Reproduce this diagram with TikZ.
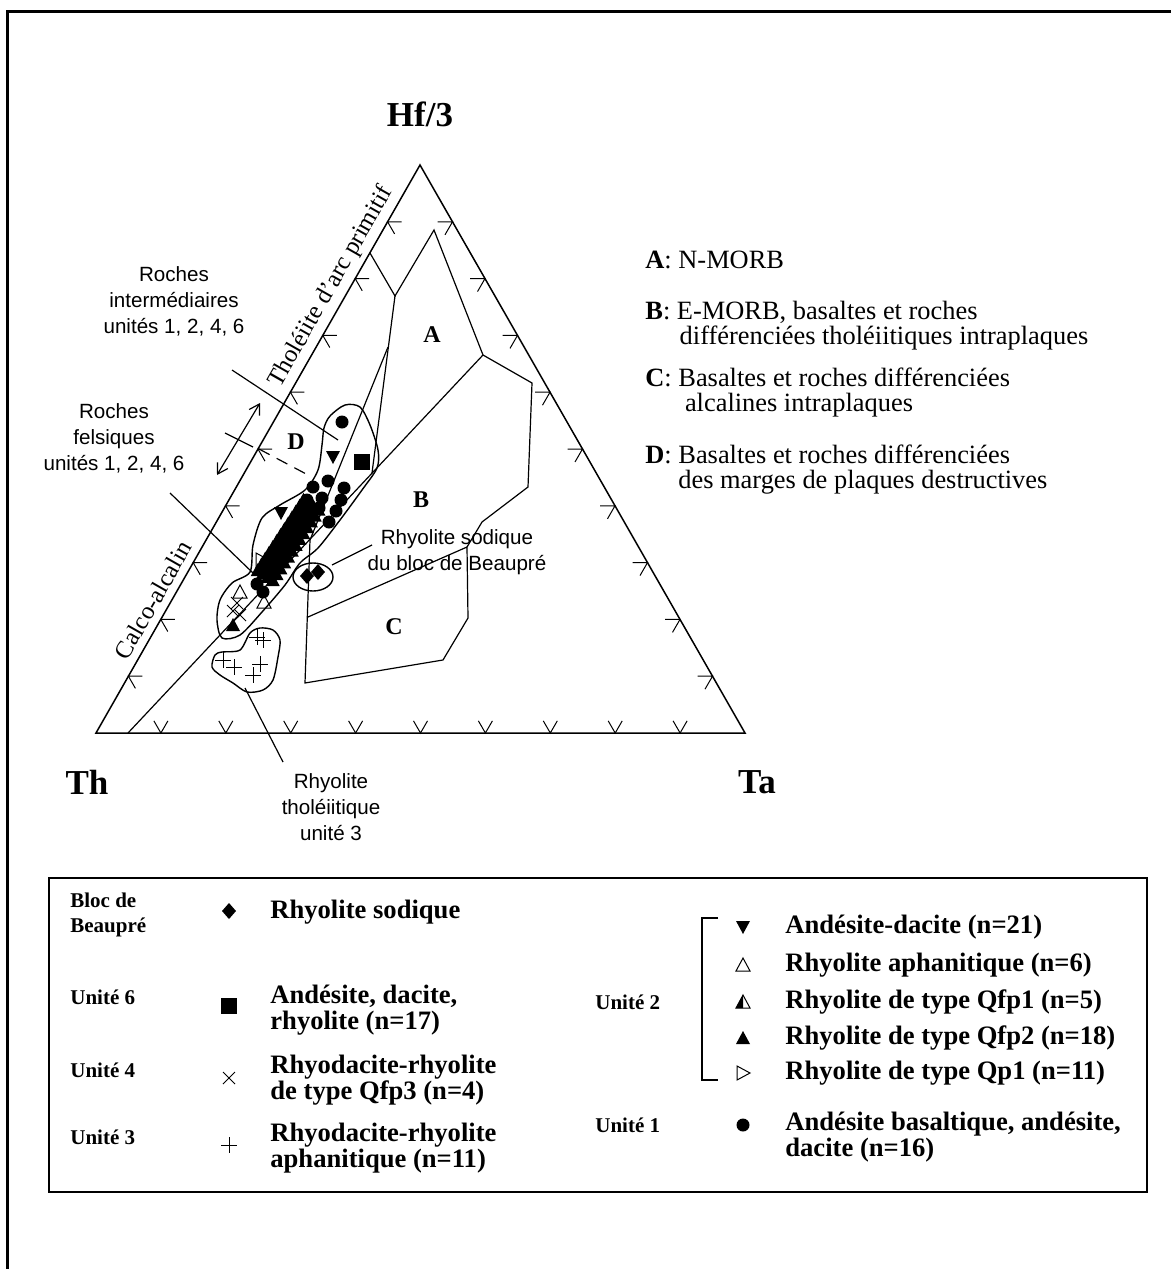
\documentclass[tikz,border=0pt]{standalone}
\usepackage{fontspec}
\setmainfont{Liberation Serif}
\setsansfont{Liberation Sans}
\usetikzlibrary{arrows.meta}

\begin{document}
\begin{tikzpicture}[x=0.5pt,y=-0.5pt]

\tikzset{axe/.style={line width=0.75pt}}
\tikzset{champ/.style={line width=0.6pt}}
\tikzset{graduation/.style={line width=0.5pt}}
\tikzset{amas/.style={line width=0.7pt}}
\tikzset{renvoi/.style={line width=0.6pt}}
\tikzset{pole/.style={font=\fontsize{17.5}{20}\selectfont\bfseries}}
\tikzset{champlettre/.style={font=\fontsize{12}{14}\selectfont\bfseries}}
\tikzset{annot/.style={font=\fontsize{10.3}{13}\selectfont\sffamily, align=center, inner sep=0pt}}
\tikzset{bord/.style={font=\fontsize{12.3}{14}\selectfont, rotate=60.3, inner sep=0pt}}
\tikzset{cle/.style={font=\fontsize{13.2}{12.5}\selectfont, anchor=west, align=left, inner sep=0pt}}
\tikzset{leg/.style={font=\fontsize{13.3}{13}\selectfont\bfseries, anchor=west, align=left, inner sep=0pt}}
\tikzset{unite/.style={font=\fontsize{10.5}{12.5}\selectfont\bfseries, anchor=west, align=left, inner sep=0pt}}

\def\ptrond(#1){\fill (#1) circle (6.5);}
\def\ptcarre(#1){\fill[shift={(#1)}] (-8,-8) rectangle (8,8);}
\def\ptbas(#1){\fill[shift={(#1)}] (-7,-6) -- (7,-6) -- (0,7) -- cycle;}
\def\pthaut(#1){\fill[shift={(#1)}] (-7,6) -- (7,6) -- (0,-7) -- cycle;}
\def\pthautvide(#1){\draw[line width=0.5pt, shift={(#1)}] (-7,6) -- (7,6) -- (0,-7) -- cycle;}
\def\ptdemi(#1){\draw[line width=0.5pt, shift={(#1)}] (-7,6) -- (7,6) -- (0,-7) -- cycle; \fill[shift={(#1)}] (-7,6) -- (0,6) -- (0,-7) -- cycle;}
\def\ptdroite(#1){\draw[line width=0.5pt, shift={(#1)}] (-6,-7) -- (7,0) -- (-6,7) -- cycle;}
\def\ptcroix(#1){\draw[line width=0.5pt, shift={(#1)}] (-6,-6) -- (6,6) (-6,6) -- (6,-6);}
\def\ptplus(#1){\draw[line width=0.5pt, shift={(#1)}] (-8,0) -- (8,0) (0,-8) -- (0,8);}
\def\ptlosange(#1){\fill[shift={(#1)}] (0,-8) -- (7,0) -- (0,8) -- (-7,0) -- cycle;}

\useasboundingbox (0,0) rectangle (1171,1269);

% cadre
\draw[line width=1.5pt] (7,1269) -- (7,11) -- (1171,11);

% triangle
\coordinate (sommetHf) at (420,165);
\coordinate (sommetTh) at (96,733);
\coordinate (sommetTa) at (745,733);
\draw[axe] (sommetHf) -- (sommetTh) -- (sommetTa) -- cycle;

\node[pole] (etiqHf) at (420,114) {Hf/3};
\node[pole] (etiqTh) at (87,782) {Th};
\node[pole] (etiqTa) at (757,782) {Ta};

\foreach \k in {1,...,9}{
  \draw[graduation] ({96+64.9*\k},733) ++(-120:14) -- ({96+64.9*\k},733) -- ++(-60:14);
  \draw[graduation] ({745-32.5*\k},{733-56.8*\k}) ++(180:15) -- ({745-32.5*\k},{733-56.8*\k}) -- ++(120:15);
  \draw[graduation] ({420-32.4*\k},{165+56.8*\k}) ++(0:14) -- ({420-32.4*\k},{165+56.8*\k}) -- ++(60:14);
}

% champs de Wood
\draw[champ] (370,253) -- (395,296) -- (434,230) -- (483,355) -- (532,383) -- (528,487) -- (482,522) -- (467,547);
\draw[champ] (395,296) -- (372,473);
\draw[champ] (388,347) -- (310,540);
\draw[champ] (128,733) -- (483,355);
\draw[champ] (310,540) -- (305,683) -- (443,660) -- (468,618) -- (467,547) -- (308,617);
\draw[champ, dash pattern=on 6pt off 4pt] (259,449) -- (310,476);

\node[champlettre] (champA) at (432,335) {A};
\node[champlettre] (champB) at (421,500) {B};
\node[champlettre] (champC) at (394,627) {C};
\node[champlettre] (champD) at (296,442) {D};

\node[bord] (tholarc) at (331,287) {Tholéiite d'arc primitif};
\node[bord] (calco) at (153,600) {Calco-alcalin};

% enveloppes
\draw[amas] plot[smooth cycle] coordinates {(330,416) (345,405) (360,407) (370,425) (378,450) (377,468) (362,490) (340,520) (318,548) (300,563) (285,585) (262,612) (240,635) (222,638) (217,620) (220,600) (232,583) (250,572) (253,545) (262,518) (280,505) (305,490) (318,470) (322,445) (324,428)};
\draw[amas] plot[smooth cycle] coordinates {(215,655) (222,652) (240,650) (250,633) (260,628) (273,630) (280,640) (278,657) (273,680) (263,690) (247,692) (233,683) (220,675) (212,667)};
\draw[amas] (313,577) ellipse (20 and 14);

% points
\ptrond(342,422) \ptrond(313,487) \ptrond(328,481) \ptrond(344,488) \ptrond(322,498)
\ptrond(336,511) \ptrond(341,500) \ptrond(329,522) \ptrond(319,508) \ptrond(307,500)
\ptrond(257,584) \ptrond(263,592)
\ptbas(333,457) \ptbas(281,513)
\ptcarre(362,462)
\foreach \t in {0,7,...,84}
  \foreach \s in {-15,-9,-3,3}
    \fill[shift={({316-0.545*\t+0.838*\s},{508+0.838*\t+0.545*\s})}] (-7,6) -- (7,6) -- (0,-7) -- cycle;
\ptdroite(262,560)
\pthautvide(240,592) \pthautvide(264,602)
\ptcroix(237,603) \ptcroix(233,611) \ptcroix(240,615)
\pthaut(233,625)
\ptplus(257,637) \ptplus(263,640) \ptplus(223,660) \ptplus(234,667) \ptplus(260,664) \ptplus(253,675)
\ptlosange(307,576) \ptlosange(318,572)

% annotations
\node[annot] (roint) at (174,301) {Roches\\intermédiaires\\unités 1, 2, 4, 6};
\node[annot] (rofel) at (114,438) {Roches\\felsiques\\unités 1, 2, 4, 6};
\node[annot] (rhytho) at (331,807) {Rhyolite\\tholéiitique\\unité 3};
\node[annot] (rhysod) at (457,552) {Rhyolite sodique\\du bloc de Beaupré};

\coordinate (roint-a) at (232,370);
\coordinate (roint-b) at (338,440);
\coordinate (rofel-a) at (170,493);
\coordinate (rofel-b) at (253,573);
\coordinate (rhytho-a) at (283,762);
\coordinate (rhytho-b) at (245,688);
\coordinate (rhysod-a) at (372,545);
\coordinate (rhysod-b) at (332,565);
\draw[renvoi] (roint-a) -- (roint-b);
\draw[renvoi] (rofel-a) -- (rofel-b);
\draw[renvoi] (rhytho-a) -- (rhytho-b);
\draw[renvoi] (rhysod-a) -- (rhysod-b);

\coordinate (fleche-haut) at (260,403);
\coordinate (fleche-bas) at (217,475);
\draw[renvoi, {Straight Barb[length=5pt,width=6pt]}-{Straight Barb[length=5pt,width=6pt]}] (fleche-haut) -- (fleche-bas);
\draw[renvoi] (225,433) -- (253,447);

% legende des champs
\node[cle] (cleA) at (645,260) {\textbf{A}: N-MORB};
\node[cle] (cleB) at (645,325.5) {\textbf{B}: E-MORB, basaltes et roches\\\hspace*{1.3em}différenciées tholéiitiques intraplaques};
\node[cle] (cleC) at (645,392.5) {\textbf{C}: Basaltes et roches différenciées\\\hspace*{1.5em}alcalines intraplaques};
\node[cle] (cleD) at (645,469.5) {\textbf{D}: Basaltes et roches différenciées\\\hspace*{1.25em}des marges de plaques destructives};

% legende des symboles
\draw[axe] (49,878) rectangle (1147,1192);

\node[unite] (uBeau) at (70,914.5) {Bloc de\\Beaupré};
\node[unite] (u6) at (70,997) {Unité 6};
\node[unite] (u4) at (70,1070) {Unité 4};
\node[unite] (u3) at (70,1137) {Unité 3};
\node[unite] (u2) at (595,1002) {Unité 2};
\node[unite] (u1) at (595,1125) {Unité 1};

\ptlosange(229,911)
\ptcarre(229,1006)
\ptcroix(229,1078)
\ptplus(229,1145)
\node[leg] (legBeau) at (270,912) {Rhyolite sodique};
\node[leg] (leg6) at (270,1010) {Andésite, dacite,\\rhyolite (n=17)};
\node[leg] (leg4) at (270,1080.5) {Rhyodacite-rhyolite\\de type Qfp3 (n=4)};
\node[leg] (leg3) at (270,1148.5) {Rhyodacite-rhyolite\\aphanitique (n=11)};

\draw[champ] (718,918) -- (702,918) -- (702,1080) -- (718,1080);
\ptbas(743,927)
\pthautvide(743,965)
\ptdemi(743,1002)
\pthaut(743,1038)
\ptdroite(743,1073)
\ptrond(743,1125)
\node[leg] (leg2a) at (785,927) {Andésite-dacite (n=21)};
\node[leg] (leg2b) at (785,965) {Rhyolite aphanitique (n=6)};
\node[leg] (leg2c) at (785,1002) {Rhyolite de type Qfp1 (n=5)};
\node[leg] (leg2d) at (785,1038) {Rhyolite de type Qfp2 (n=18)};
\node[leg] (leg2e) at (785,1073) {Rhyolite de type Qp1 (n=11)};
\node[leg] (leg1) at (785,1137) {Andésite basaltique, andésite,\\dacite (n=16)};

\end{tikzpicture}
\end{document}
